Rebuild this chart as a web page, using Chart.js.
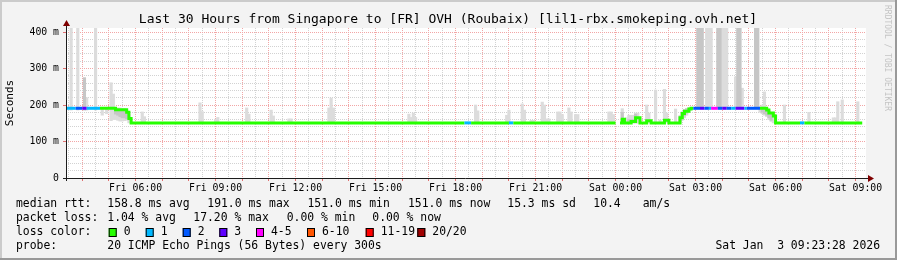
<!DOCTYPE html>
<html>
<head>
<meta charset="utf-8">
<script src="https://cdn.jsdelivr.net/npm/chart.js@4.4.1/dist/chart.umd.min.js"></script>
<style>
  html, body { margin: 0; padding: 0; background: #f3f3f3; }
  canvas { display: block; }
</style>
</head>
<body>
<canvas id="c" width="897" height="260"></canvas>
<script>
// time is minutes since Fri 00:00, graph spans Fri 03:23:28 .. Sat 09:23:28
const startMin = 203.47;
const endMin = 2003.47;

const xLabelTimes = [360, 540, 720, 900, 1080, 1260, 1440, 1620, 1800, 1980];
const xLabelText = ['Fri 06:00', 'Fri 09:00', 'Fri 12:00', 'Fri 15:00', 'Fri 18:00',
  'Fri 21:00', 'Sat 00:00', 'Sat 03:00', 'Sat 06:00', 'Sat 09:00'];
const yLabelValues = [0, 100, 200, 300, 400];
const yLabelText = ['0', '100 m', '200 m', '300 m', '400 m'];

// loss colours (smokeping defaults)
const lossLabels = ['0', '1', '2', '3', '4-5', '6-10', '11-19', '20/20'];
const lossColors = ['#26ff00', '#00b8ff', '#0059ff', '#5e00ff', '#ff00ff', '#ff5500', '#ff0000', '#a10000'];

// median rtt (ms) change points, loss index per point
const medTime = [200, 225, 240, 250, 280, 315, 340, 345, 350, 1100, 1115, 1200, 1210, 1440, 1440,
  1450, 1455, 1460, 1475, 1485, 1495, 1510, 1520, 1550, 1560, 1585, 1590, 1595, 1605,
  1610, 1615, 1630, 1640, 1650, 1655, 1670, 1680, 1690, 1700, 1710, 1730, 1735, 1765,
  1780, 1785, 1795, 1800, 1855, 1865, 1995];
const medMs = [191, 191, 191, 191, 191, 187, 180, 163, 151, 151, 151, 151, 151, 151, null,
  151, 161, 151, 155, 165, 151, 157, 151, 158, 151, 165, 177, 183, 189,
  191, 191, 191, 191, 191, 191, 191, 191, 191, 191, 191, 191, 191, 191,
  186, 178, 170, 151, 151, 151, 151];
const medLoss = [1, 2, 3, 1, 0, 0, 0, 0, 0, 1, 0, 1, 0, 0, 0,
  0, 0, 0, 0, 0, 0, 0, 0, 0, 0, 0, 0, 0, 0,
  0, 2, 3, 2, 1, 4, 2, 3, 2, 1, 3, 1, 2, 0,
  0, 0, 0, 0, 1, 0, 0];

// smoke: full ping spread per 5 minute step (ms)
const smokeTime = [215, 230, 250, 270, 285, 295, 305, 310, 315, 320, 325, 330, 335, 340, 345,
  375, 380, 505, 510, 540, 545, 610, 615, 665, 670, 705, 710, 795, 800, 805,
  975, 980, 985, 990, 1125, 1130, 1195, 1200, 1230, 1235, 1250, 1255, 1275, 1280, 1285, 1290,
  1310, 1315, 1320, 1335, 1340, 1350, 1355, 1425, 1430, 1435,
  1455, 1465, 1470, 1475, 1480, 1485, 1490, 1510, 1515, 1530, 1540, 1550, 1555, 1575,
  1585, 1590, 1595, 1600, 1605, 1645, 1650, 1655, 1680, 1685, 1690, 1710, 1725,
  1765, 1770, 1775, 1780, 1785, 1790, 1795, 1820, 1875, 1930, 1935, 1940, 1950, 1985];
const smokeLo = [186, 186, 186, 186, 172, 176, 157, 160, 160, 158, 156, 156, 157, 158, 151,
  151, 151, 151, 151, 151, 151, 151, 151, 151, 151, 151, 151, 151, 151, 151,
  151, 151, 151, 151, 151, 151, 151, 151, 151, 151, 151, 151, 151, 151, 151, 151,
  151, 151, 151, 151, 151, 151, 151, 151, 151, 151,
  150, 150, 150, 150, 150, 150, 150, 151, 151, 151, 151, 151, 151, 151,
  150, 158, 165, 172, 180, 191, 191, 191, 191, 191, 191, 191, 191,
  180, 176, 172, 168, 160, 155, 151, 151, 151, 151, 151, 151, 151, 151];
const smokeHi = [450, 450, 220, 450, 191, 191, 261, 230, 192, 192, 192, 190, 190, 185, 175,
  181, 168, 206, 182, 161, 166, 192, 175, 186, 170, 162, 162, 192, 219, 192,
  175, 166, 178, 166, 200, 184, 172, 186, 203, 186, 158, 158, 208, 200, 162, 162,
  181, 181, 174, 192, 181, 174, 174, 181, 181, 174,
  190, 165, 172, 172, 172, 178, 178, 200, 178, 241, 159, 243, 178, 189,
  172, 182, 188, 191, 193, 450, 450, 450, 450, 450, 450, 277, 246,
  195, 200, 236, 190, 186, 180, 175, 200, 180, 165, 165, 209, 214, 209];

// denser smoke: where most pings sit (ms)
const coreTime = [245, 315, 320, 325, 330, 335, 340, 1455, 1470, 1475, 1480, 1485,
  1585, 1590, 1595, 1600, 1625, 1630, 1635, 1670, 1675, 1715, 1720, 1755, 1760,
  1770, 1775, 1780, 1785, 1790];
const coreLo = [186, 175, 172, 168, 165, 165, 162, 152, 152, 152, 152, 155,
  155, 162, 170, 178, 191, 191, 191, 191, 191, 191, 191, 191, 191,
  180, 176, 172, 165, 158];
const coreHi = [275, 190, 190, 188, 188, 186, 182, 180, 160, 160, 160, 175,
  168, 178, 186, 190, 450, 450, 450, 450, 450, 450, 450, 450, 450,
  192, 190, 186, 182, 175];

const rttStats = ['158.8 ms avg', '191.0 ms max', '151.0 ms min', '151.0 ms now', '15.3 ms sd', '10.4', 'am/s'];
const lossStats = ['1.04 % avg', '17.20 % max', '0.00 % min', '0.00 % now'];
const probeText = '20 ICMP Echo Pings (56 Bytes) every 300s';
const titleText = 'Last 30 Hours from Singapore to [FR] OVH (Roubaix) [lil1-rbx.smokeping.ovh.net]';
const stampText = 'Sat Jan  3 09:23:28 2026';

const MONO = '"DejaVu Sans Mono", "Liberation Mono", monospace';
const RED_GRID = '#f2a6a6';
const GREY_GRID = '#d2d2d2';

const rrdFrame = {
  id: 'rrdFrame',
  beforeDraw(chart) {
    const ctx = chart.ctx, a = chart.chartArea;
    ctx.save();
    ctx.fillStyle = '#f3f3f3';
    ctx.fillRect(0, 0, 897, 260);
    ctx.fillStyle = '#cbcbcb';
    ctx.fillRect(0, 0, 897, 2);
    ctx.fillRect(0, 0, 2, 260);
    ctx.fillStyle = '#999999';
    ctx.fillRect(0, 258, 897, 2);
    ctx.fillRect(895, 0, 2, 260);
    ctx.fillStyle = '#ffffff';
    ctx.fillRect(a.left, a.top, a.right - a.left, a.bottom - a.top);
    ctx.restore();
  },
  afterDatasetsDraw(chart) {
    const ctx = chart.ctx, a = chart.chartArea;
    ctx.save();
    ctx.strokeStyle = '#1c1c1c';
    ctx.lineWidth = 1;
    ctx.beginPath();
    ctx.moveTo(a.left + 0.5, a.bottom + 3);
    ctx.lineTo(a.left + 0.5, a.top - 3);
    ctx.moveTo(a.left - 3, a.bottom + 0.5);
    ctx.lineTo(a.right + 2, a.bottom + 0.5);
    ctx.stroke();
    ctx.fillStyle = '#7f0000';
    ctx.beginPath();
    ctx.moveTo(a.left + 0.5 - 3.5, a.top - 2);
    ctx.lineTo(a.left + 0.5 + 3.5, a.top - 2);
    ctx.lineTo(a.left + 0.5, a.top - 8);
    ctx.closePath();
    ctx.fill();
    ctx.beginPath();
    ctx.moveTo(a.right + 2, a.bottom + 0.5 - 3.5);
    ctx.lineTo(a.right + 2, a.bottom + 0.5 + 3.5);
    ctx.lineTo(a.right + 8, a.bottom + 0.5);
    ctx.closePath();
    ctx.fill();
    ctx.restore();
  },
  afterDraw(chart) {
    const ctx = chart.ctx;
    ctx.save();
    ctx.fillStyle = '#000';
    ctx.textBaseline = 'middle';

    ctx.font = '13px ' + MONO;
    ctx.textAlign = 'center';
    ctx.fillText(titleText, 448, 19.5);

    // y axis title
    ctx.save();
    ctx.font = '11px ' + MONO;
    ctx.translate(10, 103);
    ctx.rotate(-Math.PI / 2);
    ctx.fillText('Seconds', 0, 0);
    ctx.restore();

    // watermark
    ctx.save();
    ctx.fillStyle = '#c4c4c4';
    ctx.font = '8px ' + MONO;
    ctx.textAlign = 'left';
    ctx.translate(887, 5);
    ctx.rotate(Math.PI / 2);
    ctx.fillText('RRDTOOL / TOBI OETIKER', 0, 0);
    ctx.restore();

    ctx.font = '11.4px ' + MONO;
    ctx.textAlign = 'left';
    const rows = [204.5, 218.5, 232.5, 246.5];
    ctx.fillText('median rtt:', 16, rows[0]);
    [107.3, 207.3, 307.5, 408, 507.3, 593.3, 642.7].forEach((x, i) => ctx.fillText(rttStats[i], x, rows[0]));
    ctx.fillText('packet loss:', 16, rows[1]);
    [107.3, 193.3, 286.7, 372.3].forEach((x, i) => ctx.fillText(lossStats[i], x, rows[1]));
    ctx.fillText('loss color:', 16, rows[2]);
    [108.7, 145.7, 182.7, 219.3, 256, 307, 365.7, 417.3].forEach((x, i) => {
      ctx.fillStyle = lossColors[i];
      ctx.fillRect(x, rows[2] - 4.5, 8, 9);
      ctx.strokeStyle = '#000';
      ctx.strokeRect(x + 0.5, rows[2] - 4.5 + 0.5, 7, 8);
      ctx.fillStyle = '#000';
      ctx.fillText(lossLabels[i], x + 15, rows[2]);
    });
    ctx.fillText('probe:', 16, rows[3]);
    ctx.fillText(probeText, 107.3, rows[3]);
    ctx.textAlign = 'right';
    ctx.fillText(stampText, 880, rows[3]);
    ctx.restore();
  }
};

const xGrid = [];
for (let m = 210; m <= 1980; m += 30) xGrid.push(m);
const yGrid = [];
for (let v = 0; v <= 400; v += 20) yGrid.push(v);

new Chart(document.getElementById('c'), {
  type: 'line',
  data: {
    datasets: [
      {
        type: 'line',
        data: medTime.map((t, i) => ({ x: t, y: medMs[i] })),
        stepped: true,
        borderWidth: 3,
        borderCapStyle: 'butt',
        borderColor: lossColors[0],
        pointRadius: 0,
        spanGaps: false,
        segment: { borderColor: c => lossColors[medLoss[c.p0DataIndex]] },
        order: 0
      },
      {
        type: 'bar',
        data: coreTime.map((t, i) => ({ x: t, y: [coreLo[i], coreHi[i]] })),
        backgroundColor: '#c6c6c6',
        barThickness: 2.5,
        grouped: false,
        order: 1
      },
      {
        type: 'bar',
        data: smokeTime.map((t, i) => ({ x: t, y: [smokeLo[i], smokeHi[i]] })),
        backgroundColor: '#dcdcdc',
        barThickness: 2.5,
        grouped: false,
        order: 2
      }
    ]
  },
  options: {
    responsive: false,
    animation: false,
    devicePixelRatio: 1,
    layout: { padding: { top: 28, right: 31, bottom: 0, left: 0 } },
    plugins: { legend: { display: false }, tooltip: { enabled: false }, title: { display: false } },
    scales: {
      x: {
        type: 'linear',
        min: startMin,
        max: endMin,
        offset: false,
        afterBuildTicks: s => { s.ticks = xGrid.map(v => ({ value: v })); },
        afterFit: s => { s.height = 82; },
        grid: {
          offset: false,
          lineWidth: 1,
          tickLength: 3,
          color: c => (c.tick && c.tick.value % 60 === 0) ? RED_GRID : GREY_GRID,
          tickColor: c => (c.tick && c.tick.value % 60 === 0) ? '#e07070' : 'rgba(0,0,0,0)'
        },
        border: { display: false, dash: [1, 1] },
        ticks: {
          autoSkip: false,
          maxRotation: 0,
          padding: 2,
          color: '#000',
          font: { family: MONO, size: 9.8 },
          callback: v => { const k = xLabelTimes.indexOf(v); return k < 0 ? '' : xLabelText[k]; }
        }
      },
      y: {
        min: 0,
        max: 411,
        afterBuildTicks: s => { s.ticks = yGrid.map(v => ({ value: v })); },
        afterFit: s => { s.width = 66; },
        grid: {
          lineWidth: 1,
          tickLength: 3,
          color: c => (c.tick && c.tick.value % 100 === 0) ? RED_GRID : GREY_GRID,
          tickColor: c => (c.tick && c.tick.value % 100 === 0) ? '#e07070' : 'rgba(0,0,0,0)'
        },
        border: { display: false, dash: [1, 1] },
        ticks: {
          autoSkip: false,
          padding: 4,
          color: '#000',
          font: { family: MONO, size: 9.8 },
          callback: v => { const k = yLabelValues.indexOf(v); return k < 0 ? '' : yLabelText[k]; }
        }
      }
    }
  },
  plugins: [rrdFrame]
});
</script>
</body>
</html>
